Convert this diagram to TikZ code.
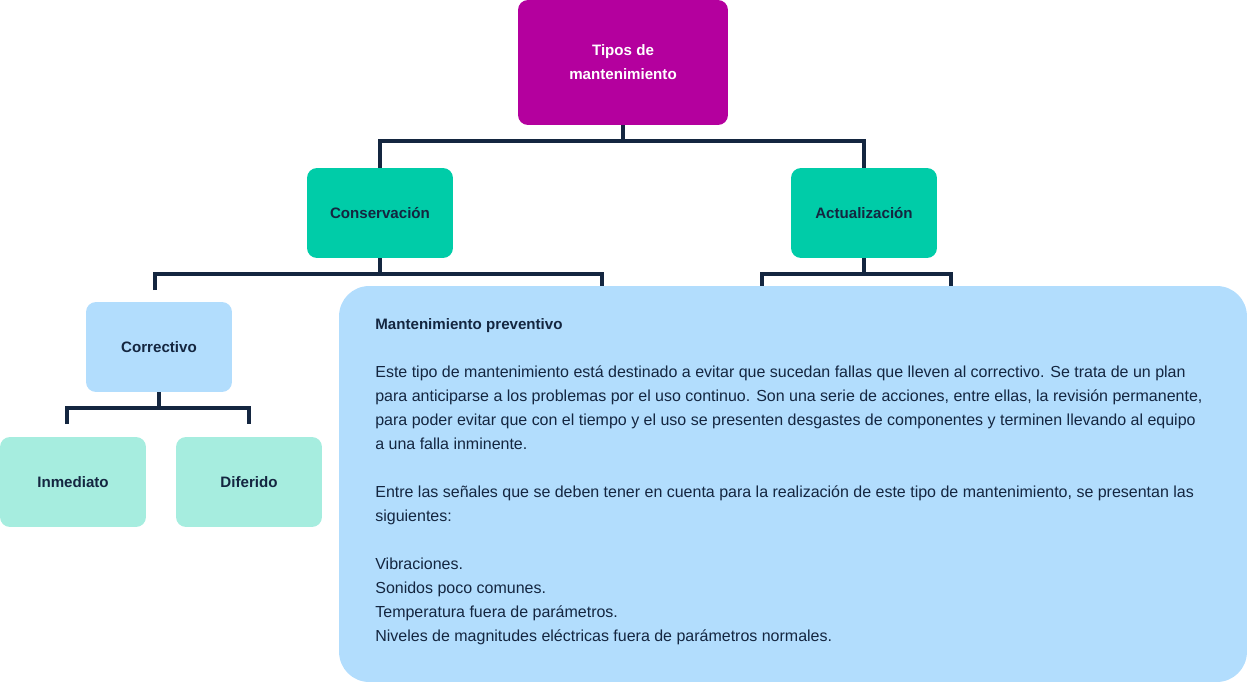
\documentclass[tikz,border=0pt]{standalone}
\usepackage{fontspec}
\setmainfont{Liberation Sans}
\usetikzlibrary{positioning}
\definecolor{magenta}{HTML}{B4009E}
\definecolor{verde}{HTML}{00CCA8}
\definecolor{celeste}{HTML}{B2DDFD}
\definecolor{menta}{HTML}{A6EDDF}
\definecolor{navy}{HTML}{142640}
\tikzset{
    caja/.style={rounded corners=0.2cm, minimum width=2.92cm, minimum height=1.8cm,
        align=center, text=navy, font=\fontsize{8.6}{13.66}\selectfont\bfseries},
    link/.style={draw=navy, line width=2.3pt}
}

\begin{document}
\begin{tikzpicture}[x=0.02cm, y=-0.02cm]
                \useasboundingbox (0,0) rectangle (1247,682);
                \node[caja, fill=magenta, text=white, minimum width=4.2cm, minimum height=2.5cm] (tipos) at (623,62.5) {Tipos de\\mantenimiento};
                \node[caja, fill=verde] (cons) at (380,213) {Conservación};
                \node[caja, fill=verde] (act) at (864,213) {Actualización};
                \node[caja, fill=celeste] (corr) at (159,347) {Correctivo};
                \node[caja, fill=menta] (inm) at (73,482) {Inmediato};
                \node[caja, fill=menta] (dif) at (249,482) {Diferido};
                \coordinate (cl) at (155,290);
                \coordinate (cr) at (602,286);
                \coordinate (al) at (762,286);
                \coordinate (ar) at (951,286);
                \coordinate (il) at (67,424);
                \coordinate (ir) at (249,424);
                \draw[link] (tipos) -- (tipos.south |- 0,141);
                \draw[link] (cons) |- (tipos.south |- 0,141) -| (act);
                \draw[link] (cons) -- (cons.south |- 0,274);
                \draw[link] (cl) |- (cons.south |- 0,274) -| (cr);
                \draw[link] (act) -- (act.south |- 0,274);
                \draw[link] (al) |- (act.south |- 0,274) -| (ar);
                \draw[link] (corr) -- (corr.south |- 0,408);
                \draw[link] (il) |- (corr.south |- 0,408) -| (ir);
                \node[fill=celeste, rounded corners=0.6cm, minimum width=18.16cm, minimum height=7.92cm] (prev) at (793,484) {};
                \node[anchor=north west, inner sep=0, align=left, text=navy, font=\fontsize{9.1}{13.66}\selectfont] (prevtxt) at (375,318) {%
                    {\fontsize{8.6}{13.66}\selectfont\bfseries Mantenimiento preventivo}\\[13.66pt]
                    Este tipo de mantenimiento está destinado a evitar que sucedan fallas que lleven al correctivo. Se trata de un plan\\
                    para anticiparse a los problemas por el uso continuo. Son una serie de acciones, entre ellas, la revisión permanente,\\
                    para poder evitar que con el tiempo y el uso se presenten desgastes de componentes y terminen llevando al equipo\\
                    a una falla inminente.\\[13.66pt]
                    Entre las señales que se deben tener en cuenta para la realización de este tipo de mantenimiento, se presentan las\\
                    siguientes:\\[13.66pt]
                    Vibraciones.\\
                    Sonidos poco comunes.\\
                    Temperatura fuera de parámetros.\\
                    Niveles de magnitudes eléctricas fuera de parámetros normales.};
            \end{tikzpicture}
\end{document}
